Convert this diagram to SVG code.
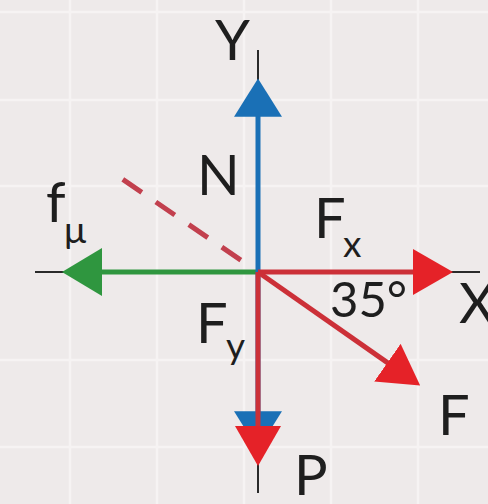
<svg xmlns="http://www.w3.org/2000/svg" width="488" height="504" viewBox="0 0 488 504">
<style>
.grid{stroke:#f6f3f3;stroke-width:2.5;fill:none}
.axis{stroke:#2a2a2a;stroke-width:2;fill:none}
.lbl{font-family:Lato,"Open Sans","Liberation Sans",sans-serif;fill:#1e1e1e;font-size:56px}
.sub{font-size:37px}
.deg{font-size:49px}
.red{stroke:#cc3038;stroke-width:5;fill:none}
.blue{stroke:#1a70b6;stroke-width:5;fill:none}
.green{stroke:#2f963f;stroke-width:5;fill:none}
.dash{stroke:#c2404e;stroke-width:5;fill:none;stroke-dasharray:23 17}
</style>
<defs>
<marker id="hr" markerUnits="userSpaceOnUse" markerWidth="42" markerHeight="48" refX="10" refY="23" orient="auto" viewBox="0 0 42 48">
<path d="M0,0 L40,23 L0,46 Z" fill="#e52228"/>
</marker>
<marker id="hb" markerUnits="userSpaceOnUse" markerWidth="42" markerHeight="48" refX="10" refY="24.5" orient="auto" viewBox="0 0 42 49">
<path d="M0,0 L39,24.5 L0,49 Z" fill="#1a70b6"/>
</marker>
<marker id="hg" markerUnits="userSpaceOnUse" markerWidth="42" markerHeight="50" refX="10" refY="24" orient="auto" viewBox="0 0 42 50">
<path d="M0,0 L40,24 L0,48 Z" fill="#2f963f"/>
</marker>
</defs>
<rect width="488" height="504" fill="#eeeaea"/>
<g id="grid" class="grid">
<line x1="70" y1="0" x2="70" y2="504"/>
<line x1="157" y1="0" x2="157" y2="504"/>
<line x1="244" y1="0" x2="244" y2="504"/>
<line x1="331" y1="0" x2="331" y2="504"/>
<line x1="418" y1="0" x2="418" y2="504"/>
<line x1="0" y1="12" x2="488" y2="12"/>
<line x1="0" y1="100" x2="488" y2="100"/>
<line x1="0" y1="186" x2="488" y2="186"/>
<line x1="0" y1="360" x2="488" y2="360"/>
<line x1="0" y1="447" x2="488" y2="447"/>
</g>
<g id="axes" class="axis">
<line x1="258" y1="50" x2="258" y2="493"/>
<line x1="35" y1="272" x2="480" y2="272"/>
</g>
<g id="connectors">
<line class="dash" x1="122.8" y1="179.4" x2="249.8" y2="266.3"/>
<line class="green" x1="258" y1="272" x2="92" y2="272" marker-end="url(#hg)"/>
<line class="blue" x1="258" y1="272" x2="258" y2="107" marker-end="url(#hb)"/>
<line class="blue" x1="258" y1="272" x2="258" y2="421" marker-end="url(#hb)"/>
<line class="red" x1="258" y1="272" x2="258" y2="436" marker-end="url(#hr)"/>
<line class="red" x1="258" y1="272" x2="423" y2="272" marker-end="url(#hr)"/>
<line class="red" x1="258" y1="272" x2="395.6" y2="368.4" marker-end="url(#hr)"/>
</g>
<g id="labels" class="lbl">
<text id="Y" x="215" y="60">Y</text>
<text id="X" x="459" y="323">X</text>
<text id="N" x="197" y="195">N</text>
<text id="fmu" x="46" y="222">f<tspan class="sub" x="64" y="243">μ</tspan></text>
<text id="Fx" x="314" y="238">F<tspan class="sub" x="343" y="257">x</tspan></text>
<text id="Fy" x="196" y="343">F<tspan class="sub" x="226" y="359">y</tspan></text>
<text id="angle" class="deg" x="330" y="317">35°</text>
<text id="F" x="438" y="435">F</text>
<text id="P" x="294" y="495">P</text>
</g>
</svg>
